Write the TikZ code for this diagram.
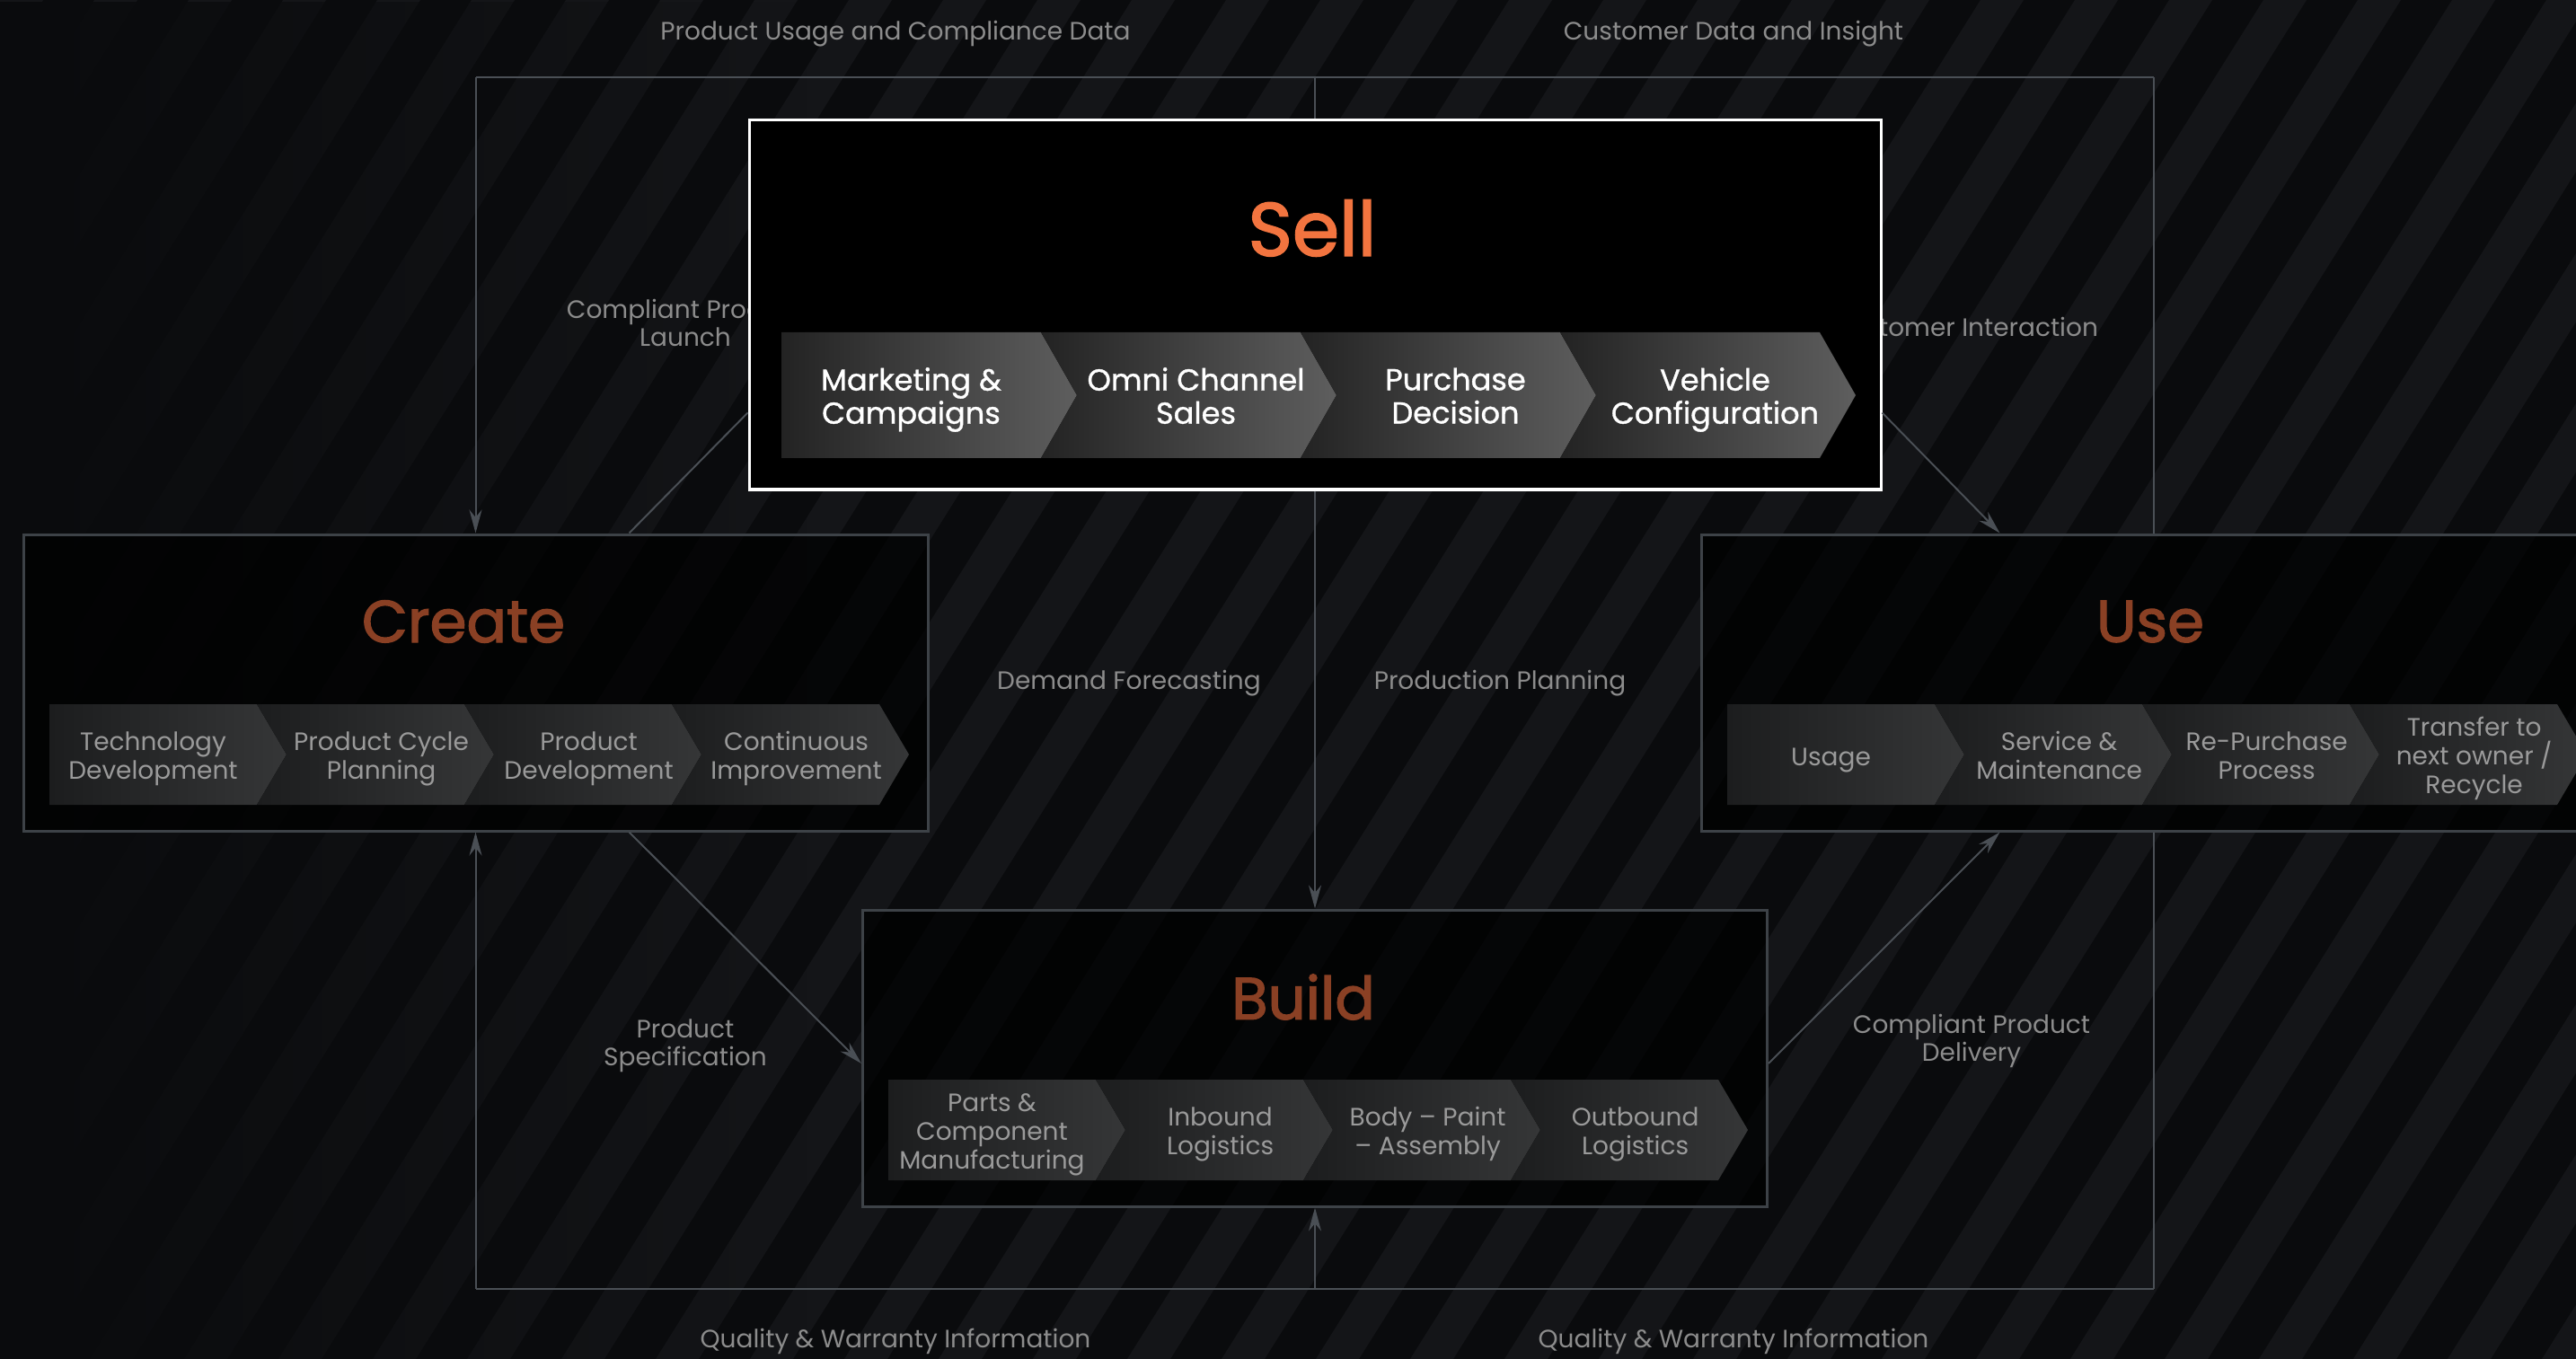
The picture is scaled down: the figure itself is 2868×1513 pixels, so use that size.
\documentclass[tikz,border=0pt]{standalone}
\usepackage{fontspec}
\setmainfont{Poppins}
\newfontfamily\headfont[FakeBold=2]{Poppins}
\newfontfamily\stepfont[FakeBold=1]{Poppins}
\usetikzlibrary{calc, positioning, arrows.meta, fadings}

\definecolor{bgdark}{HTML}{0A0B0D}
\definecolor{bgstripe}{HTML}{141518}
\definecolor{linkgrey}{HTML}{4A4F55}
\definecolor{labelgrey}{HTML}{8C8C8C}
\definecolor{sellorange}{HTML}{F2743F}
\definecolor{rust}{HTML}{8A4024}
\definecolor{boxedge}{HTML}{3D4247}
\definecolor{stepgrey}{HTML}{9A9A9A}
\definecolor{chevA}{HTML}{1C1D1E}
\definecolor{chevB}{HTML}{353637}
\definecolor{sellA}{HTML}{232323}
\definecolor{sellB}{HTML}{5E5E5E}

\tikzset{
  link/.style={draw=linkgrey, line width=1pt},
  flowlabel/.style={text=labelgrey, align=center, font=\fontsize{14}{15.5}\selectfont},
  stagebox/.style={draw=boxedge, line width=1.5pt, fill=black, fill opacity=.7,
    minimum width=503.5pt, minimum height=165pt},
  stagetitle/.style={text=rust, font=\headfont\fontsize{33}{36}\selectfont},
  stagechev/.style={left color=chevA, right color=chevB},
  stagetext/.style={text=stepgrey, align=center, font=\fontsize{14}{16}\selectfont,
    execute at begin node=\strut, execute at end node=\strut},
  sellchev/.style={left color=sellA, right color=sellB},
  selltext/.style={text=white, align=center, font=\stepfont\fontsize{16.8}{18.5}\selectfont,
    execute at begin node=\strut, execute at end node=\strut},
}

\begin{document}
\begin{tikzpicture}[x=0.5pt, y=-0.5pt, >={Stealth[length=13pt, width=7pt]}]
\useasboundingbox (0,0) rectangle (2868,1513);
\fill[bgdark] (0,0) rectangle (2868,1513);
\begin{scope}
\clip (0,0) rectangle (2868,1513);
\foreach \s in {0,105,...,3900}
  \fill[bgstripe] ({\s-950},1513) -- ++(48,0) -- ++(950,-1513) -- ++(-48,0) -- cycle;
\fill[bgdark, path fading=east] (0,0) rectangle (900,1513);
\end{scope}

% stages
\node[stagebox] (create) at (529.5,760) {};
\node[stagebox] (use) at (2397.5,760) {};
\node[stagebox] (build) at (1464,1178) {};

\foreach \k/\txt in {0/{Technology\\Development},1/{Product Cycle\\Planning},2/{Product\\Development},3/{Continuous\\Improvement}}{
  \ifnum\k=0 \def\nt{0}\else\def\nt{33}\fi
  \shade[stagechev] ({55+\k*231},784) -- ++(231,0) -- ++(33,56) -- ++(-33,56) -- ++(-231,0) -- ++(\nt,-56) -- cycle;
  \node[stagetext] (createstep\k) at ({55+\k*231+115.5+0.7*\nt},846) {\txt};
}
\foreach \k/\txt in {0/{Usage},1/{Service \&\\Maintenance},2/{Re-Purchase\\Process},3/{Transfer to\\next owner /\\Recycle}}{
  \ifnum\k=0 \def\nt{0}\else\def\nt{33}\fi
  \shade[stagechev] ({1923+\k*231},784) -- ++(231,0) -- ++(33,56) -- ++(-33,56) -- ++(-231,0) -- ++(\nt,-56) -- cycle;
  \node[stagetext] (usestep\k) at ({1923+\k*231+115.5+0.7*\nt},846) {\txt};
}
\foreach \k/\txt in {0/{Parts \&\\Component\\Manufacturing},1/{Inbound\\Logistics},2/{Body -- Paint\\-- Assembly},3/{Outbound\\Logistics}}{
  \ifnum\k=0 \def\nt{0}\else\def\nt{33}\fi
  \shade[stagechev] ({989+\k*231},1202) -- ++(231,0) -- ++(33,56) -- ++(-33,56) -- ++(-231,0) -- ++(\nt,-56) -- cycle;
  \node[stagetext] (buildstep\k) at ({989+\k*231+115.5+0.7*\nt},1264) {\txt};
}

\node[stagetitle] (createtitle) at (516,692) {Create};
\node[stagetitle] (usetitle) at (2394,692) {Use};
\node[stagetitle] (buildtitle) at (1451,1110) {Build};

% flow labels
\node[flowlabel] (usagedata) at (997,38) {Product Usage and Compliance Data};
\node[flowlabel] (custdata) at (1930,38) {Customer Data and Insight};
\node[flowlabel] (launch) at (763,359) {Compliant Product\\Launch};
\node[flowlabel, anchor=east] (interact) at (2343,364) {Customer Interaction};
\node[flowlabel] (forecast) at (1257,761) {Demand Forecasting};
\node[flowlabel] (planning) at (1670,761) {Production Planning};
\node[flowlabel] (spec) at (763,1164) {Product\\Specification};
\node[flowlabel] (delivery) at (2195,1159) {Compliant Product\\Delivery};
\node[flowlabel] (qualleft) at (997,1493) {Quality \& Warranty Information};
\node[flowlabel] (qualright) at (1930,1493) {Quality \& Warranty Information};

% sell
\node[draw=white, line width=1.5pt, fill=black, minimum width=630pt, minimum height=205.5pt] (sell) at (1464,339.5) {};
\foreach \k/\txt in {0/{Marketing \&\\Campaigns},1/{Omni Channel\\Sales},2/{Purchase\\Decision},3/{Vehicle\\Configuration}}{
  \ifnum\k=0 \def\nt{0}\else\def\nt{40}\fi
  \shade[sellchev] ({870+\k*289},370) -- ++(289,0) -- ++(40,70) -- ++(-40,70) -- ++(-289,0) -- ++(\nt,-70) -- cycle;
  \node[selltext] (sellstep\k) at ({870+\k*289+144.5+0.7*\nt},446) {\txt};
}
\node[text=sellorange, font=\headfont\fontsize{42}{46}\selectfont] (selltitle) at (1461,254) {Sell};

% loop
\coordinate (lt) at (529.5,86);
\coordinate (rt) at (2397.5,86);
\coordinate (mt) at (1464,86);
\coordinate (lb) at (529.5,1435);
\coordinate (rb) at (2397.5,1435);
\coordinate (mb) at (1464,1435);
\draw[link] (lt) -- (rt);
\draw[link] (lb) -- (rb);
\draw[link,->] (lt) -- (create.north);
\draw[link,->] (lb) -- (create.south);
\draw[link] (rt) -- (use.north);
\draw[link] (rb) -- (use.south);
\draw[link] (mt) -- (sell.north);
\draw[link,->] (sell.south) -- (build.north);
\draw[link,->] (mb) -- (build.south);
\draw[link] ($(create.north)+(171,0)$) -- ($(sell.west)+(0,120)$);
\draw[link,->] ($(sell.east)+(0,120)$) -- ($(use.north)+(-171,0)$);
\draw[link,->] ($(create.south)+(171,0)$) -- ($(build.west)+(0,6)$);
\draw[link,->] ($(build.east)+(0,6)$) -- ($(use.south)+(-171,0)$);
\end{tikzpicture}
\end{document}
